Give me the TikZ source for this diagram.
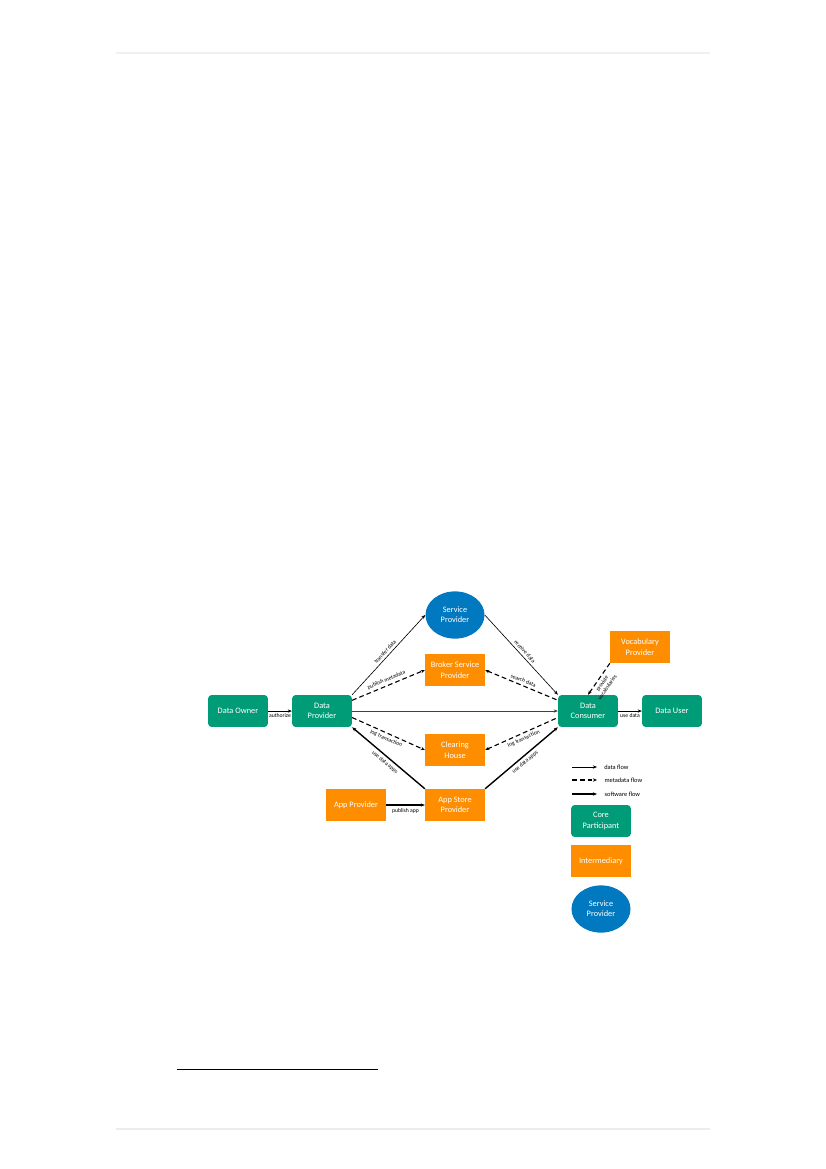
\documentclass[tikz,border=0pt]{standalone}
\usepackage{fontspec}
\setmainfont{Carlito}
\usepackage{xcolor}
\usetikzlibrary{arrows.meta, shapes.geometric}

\definecolor{coregreen}{RGB}{0,156,119}
\definecolor{interorange}{RGB}{255,141,0}
\definecolor{serviceblue}{RGB}{0,121,192}

\begin{document}
\begin{tikzpicture}[
    x=0.72pt, y=-0.72pt, >={Stealth[length=3pt, width=2.4pt]},
    core/.style={rectangle, rounded corners=2.5pt, fill=coregreen, text=white, minimum width=43pt, minimum height=23pt, align=center, inner sep=1pt, font=\fontsize{6}{7.4}\selectfont},
    inter/.style={rectangle, fill=interorange, text=white, minimum width=43pt, minimum height=23pt, align=center, inner sep=1pt, font=\fontsize{6}{7.4}\selectfont},
    service/.style={ellipse, fill=serviceblue, text=white, minimum width=42.5pt, minimum height=34pt, align=center, inner sep=0pt, font=\fontsize{6}{7.4}\selectfont},
    dataflow/.style={->, line width=0.45pt},
    metaflow/.style={->, line width=0.8pt, dash pattern=on 3.4pt off 2.2pt},
    softflow/.style={->, line width=1pt},
    lbl/.style={font=\fontsize{4.1}{4.6}\selectfont, sloped, inner sep=1.8pt, align=center},
    legendtext/.style={anchor=west, font=\fontsize{4.6}{5}\selectfont, inner sep=0pt}
]
    \useasboundingbox (0,0) rectangle (826,1169);

    % page rules
    \draw[gray!12, line width=0.8pt] (116,53) -- (710,53);
    \draw[line width=0.6pt] (177,1069) -- (378,1069);
    \draw[gray!15, line width=0.8pt] (116,1129) -- (710,1129);

    % participants
    \node[core] (owner) at (238,711) {Data Owner};
    \node[core] (provider) at (322,711) {Data\\Provider};
    \node[service] (service) at (455,615) {Service\\Provider};
    \node[inter] (broker) at (455,670) {Broker Service\\Provider};
    \node[inter] (clearing) at (455,750) {Clearing\\House};
    \node[inter] (appstore) at (455,805) {App Store\\Provider};
    \node[inter] (appprov) at (356,805) {App Provider};
    \node[core] (consumer) at (588,711) {Data\\Consumer};
    \node[core] (user) at (672,711) {Data User};
    \node[inter] (vocab) at (640,647) {Vocabulary\\Provider};

    % flows
    \draw[dataflow] (owner) -- node[lbl, below] {authorize} (provider);
    \draw[dataflow] (provider.north east) -- node[lbl, above] {transfer data} (service.west);
    \draw[metaflow] ([yshift=-4pt]provider.north east) -- node[lbl, above] {publish metadata} (broker.west);
    \draw[dataflow, black!75] (provider) -- (consumer);
    \draw[metaflow] ([yshift=7pt]provider.south east) -- node[lbl, below] {log transaction} (clearing.west);
    \draw[softflow, <-] (provider.south east) -- node[lbl, below] {use data apps} (appstore.north west);
    \draw[dataflow] (service.east) -- node[lbl, above] {receive data} (consumer.north west);
    \draw[metaflow, <-] (broker.east) -- node[lbl, above] {search data} ([yshift=-4pt]consumer.north west);
    \draw[metaflow, <-] (clearing.east) -- node[lbl, below] {log transaction} ([yshift=7pt]consumer.south west);
    \draw[softflow] (appstore.north east) -- node[lbl, below] {use data apps} (consumer.south west);
    \draw[metaflow, <-] (consumer.north) -- node[lbl, below, pos=0.45] {provide\\vocabularies} (vocab.south west);
    \draw[dataflow] (consumer) -- node[lbl, below] {use data} (user);
    \draw[softflow] (appprov) -- node[lbl, below] {publish app} (appstore);

    % legend
    \coordinate (ld1) at (572,767);
    \coordinate (ld2) at (572,780);
    \coordinate (ld3) at (572,794);
    \draw[dataflow] (ld1) -- ++(25,0) node[legendtext, xshift=5pt] {data flow};
    \draw[metaflow] (ld2) -- ++(25,0) node[legendtext, xshift=5pt] {metadata flow};
    \draw[softflow] (ld3) -- ++(25,0) node[legendtext, xshift=5pt] {software flow};
    \node[core] (lcore) at (601,821) {Core\\Participant};
    \node[inter] (linter) at (601,861) {Intermediary};
    \node[service] (lservice) at (601,909) {Service\\Provider};
\end{tikzpicture}
\end{document}
